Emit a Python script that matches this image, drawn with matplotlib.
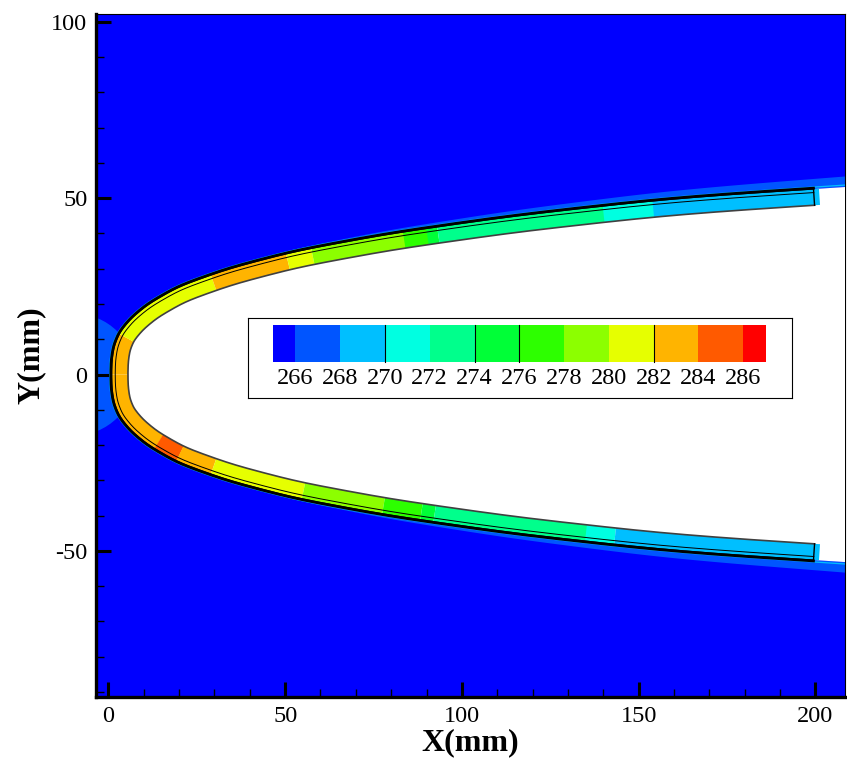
import numpy as np
import matplotlib.pyplot as plt

plt.rcParams['axes.unicode_minus'] = False

# legend levels (temperature, K) and the colour of each band
levels = [266, 268, 270, 272, 274, 276, 278, 280, 282, 284, 286]
level_colors = ['#0000ff', '#0055ff', '#00bfff', '#00ffe1', '#00ff8c', '#00ff37',
                '#2dff00', '#8cff00', '#e6ff00', '#ffb400', '#ff5a00', '#ff0000']

# outer wall of the body, upper half (mirrored for the lower half), mm
wall_y = [0, 4, 8, 12, 16, 20, 25, 30, 35, 40, 45, 50, 52.7, 55]
wall_x = [0.9, 1.0, 1.6, 3.2, 6.5, 11.3, 20, 34, 53, 80, 115, 160, 200, 240]
skin_thickness = 4.6
layer_depth = 1.0
body_end_x = 200

# skin temperature along the wall, zone edges given by x (mm)
upper_edges = [0, 3, 29, 50, 57, 83, 90, 93, 140, 153, 200]
upper_temps = [283, 281, 283, 281, 279, 277, 275, 273, 271, 269]
lower_edges = [0, 13, 19, 29, 54, 77, 88, 92, 135, 143, 200]
lower_temps = [283, 285, 283, 281, 279, 277, 275, 273, 271, 269]

# cool air layer (266-268 K) hugging the wall
glow_x = [0, 40, 80, 120, 160, 210]
glow_t = [0.3, 0.5, 1.1, 1.7, 2.3, 3.0]
nose_spot = (-9.7, 0.0)
nose_spot_r = 17.3


def color_of(t):
    return level_colors[np.searchsorted(levels, t)]


fig = plt.figure(figsize=(8.47, 7.67), dpi=100)
ax = fig.add_axes([0.113, 0.091, 0.885, 0.891])
ax.set_facecolor(level_colors[0])
ax.set_xlim(-3.6, 208.5)
ax.set_ylim(-91.5, 102.3)

# wall curve, smoothed a little so the offsets behave
ys = np.linspace(-55, 55, 2201)
xs = np.interp(np.abs(ys), wall_y, wall_x)
kern = np.exp(-0.5 * (np.arange(-90, 91) / 25.0) ** 2)
kern /= kern.sum()
xs = np.convolve(np.pad(xs, 90, mode='edge'), kern, mode='valid')
dx = np.gradient(xs)
dy = np.gradient(ys)
ln = np.hypot(dx, dy)
nx, ny = dy / ln, -dx / ln          # inward normal

# nose spot and the cool layer outside the wall
ax.add_patch(plt.Circle(nose_spot, nose_spot_r, color=level_colors[1], lw=0, zorder=1))
g = np.interp(xs, glow_x, glow_t)
ax.fill(np.r_[xs - nx * g, xs[::-1]], np.r_[ys - ny * g, ys[::-1]],
        color=level_colors[1], lw=0, zorder=2)

# empty region inside the wall
ax.fill(np.r_[xs, 400, 400], np.r_[ys, 55, -55], color='white', lw=0, zorder=3)

# skin zones
in_x = xs + nx * skin_thickness
in_y = ys + ny * skin_thickness
for edges, temps, sgn in [(upper_edges, upper_temps, 1), (lower_edges, lower_temps, -1)]:
    for x0, x1, t in zip(edges[:-1], edges[1:], temps):
        y0 = sgn * np.interp(x0, wall_x, wall_y)
        y1 = sgn * np.interp(x1, wall_x, wall_y)
        lo, hi = min(y0, y1), max(y0, y1)
        m = (ys >= lo - 0.03) & (ys <= hi + 0.03)
        ax.fill(np.r_[xs[m], in_x[m][::-1]], np.r_[ys[m], in_y[m][::-1]],
                color=color_of(t), lw=0, zorder=4)

body = xs <= body_end_x
# steep thermal layer: crowded contour lines
ax.plot(xs - nx * 0.55, ys - ny * 0.55, color='#00bfff', lw=0.9, zorder=5)
ax.plot(np.where(body, xs - nx * 0.25, np.nan), ys - ny * 0.25,
        color='black', lw=2.0, zorder=6)
ax.plot(np.where(body, xs, np.nan), ys, color='black', lw=0.8, zorder=6)
ax.plot(np.where(body, xs + nx * layer_depth, np.nan), ys + ny * layer_depth,
        color='black', lw=0.7, zorder=6)
ax.plot(np.where(body, in_x, np.nan), in_y, color='#404040', lw=1.2, zorder=6)
for sgn in (1, -1):
    k = np.where(body & (sgn * ys > 0))[0]
    k = k[-1] if sgn > 0 else k[0]
    ax.plot([xs[k], in_x[k]], [ys[k], in_y[k]], color='black', lw=1.0, zorder=6)

# axes styling
ax.spines['left'].set_linewidth(2.4)
ax.spines['bottom'].set_linewidth(2.4)
ax.spines['top'].set_linewidth(0.8)
ax.spines['right'].set_linewidth(0.8)
ax.set_xticks([0, 50, 100, 150, 200])
ax.set_yticks([-50, 0, 50, 100])
ax.set_xticks(np.arange(0, 210, 10), minor=True)
ax.set_yticks(np.arange(-90, 101, 10), minor=True)
ax.tick_params(which='major', direction='in', length=11, width=2.2,
               labelsize=17.5, pad=6)
ax.tick_params(which='minor', direction='in', length=6, width=1.0)
for lab in ax.get_xticklabels() + ax.get_yticklabels():
    lab.set_family('Liberation Serif')
ax.set_xlabel('X(mm)', family='Liberation Serif', fontsize=23, weight='bold', labelpad=1)
ax.set_ylabel('Y(mm)', family='Liberation Serif', fontsize=23, weight='bold', labelpad=4)

# legend box
lg = ax.inset_axes([0.203, 0.438, 0.726, 0.117])
lg.set_zorder(10)
lg.set_xlim(263.88, 288.18)
lg.set_ylim(80, 0)
edges = [265] + levels + [287]
lg.bar(edges[:-1], 37, width=np.diff(edges), bottom=7, align='edge',
       color=level_colors, lw=0)
for v in [270, 274, 276, 282]:
    lg.plot([v, v], [7, 44], color='black', lw=0.8)
for v in levels:
    lg.text(v, 61, str(v), ha='center', va='center', fontsize=17.5,
            family='Liberation Serif')
lg.set_xticks([])
lg.set_yticks([])
for s in lg.spines.values():
    s.set_linewidth(0.8)

fig.savefig('out.png', dpi=100)
